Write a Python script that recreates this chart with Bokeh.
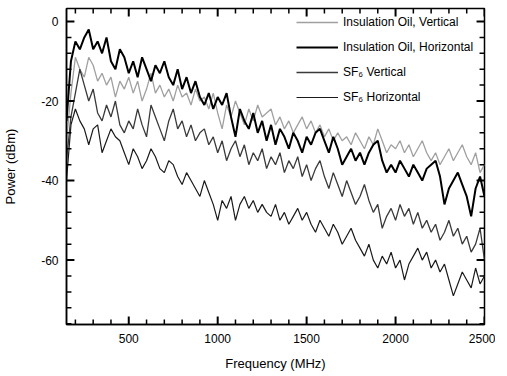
from bokeh.plotting import figure
from bokeh.models import Range1d, FixedTicker, Legend, LegendItem
from bokeh.embed import file_html
from bokeh.resources import INLINE

# Frequency grid (MHz)
freq = list(range(150, 2525, 25))

oil_vertical = [
    -30, -18, -9, -12, -14, -9, -11, -15, -13, -16,
    -14, -19, -15, -17, -14, -18, -15, -20, -17, -13,
    -18, -16, -19, -17, -20, -16, -19, -18, -21, -17,
    -20, -19, -22, -18, -23, -27, -21, -24, -20, -23,
    -26, -22, -25, -21, -24, -23, -22, -26, -24, -27,
    -25, -28, -26, -24, -27, -25, -28, -26, -29, -27,
    -30, -28, -30, -29, -31, -28, -30, -32, -29, -31,
    -27, -30, -33, -31, -32, -30, -33, -31, -34, -32,
    -30, -33, -35, -33, -36, -34, -32, -35, -33, -31,
    -34, -36, -33, -38, -36]

oil_horizontal = [
    -25, -10, -5, -7, -4, -2, -7, -5, -8, -4,
    -10, -12, -7, -9, -13, -10, -14, -9, -12, -15,
    -11, -13, -10, -14, -16, -12, -17, -14, -18, -15,
    -19, -21, -18, -22, -19, -21, -18, -24, -29, -22,
    -25, -27, -23, -28, -25, -30, -26, -31, -27, -29,
    -32, -28, -30, -33, -29, -31, -28, -27, -30, -33,
    -29, -32, -36, -34, -32, -35, -33, -36, -33, -31,
    -30, -35, -38, -36, -38, -35, -37, -39, -36, -38,
    -40, -37, -36, -35, -39, -46, -42, -40, -38, -41,
    -44, -49, -42, -39, -44]

sf6_vertical = [
    -35, -24, -18, -12, -16, -20, -17, -23, -25, -21,
    -24, -20, -26, -28, -25, -27, -22, -26, -29, -21,
    -24, -27, -30, -25, -22, -27, -25, -29, -26, -30,
    -28, -27, -31, -29, -33, -30, -35, -32, -30, -34,
    -31, -36, -33, -35, -32, -37, -34, -36, -33, -38,
    -35, -37, -34, -39, -36, -40, -37, -35, -39, -42,
    -38, -41, -44, -40, -43, -46, -44, -41, -45, -48,
    -46, -52, -49, -47, -50, -46, -49, -47, -51, -48,
    -52, -50, -53, -51, -55, -53, -50, -54, -52, -56,
    -54, -58, -56, -52, -60]

sf6_horizontal = [
    -40, -26, -22, -25, -27, -31, -27, -26, -33, -30,
    -27, -29, -30, -33, -36, -32, -34, -37, -35, -32,
    -34, -37, -38, -35, -36, -39, -41, -38, -40, -42,
    -44, -40, -43, -46, -50, -45, -47, -44, -50, -46,
    -44, -47, -45, -48, -46, -48, -49, -46, -50, -48,
    -51, -49, -47, -50, -48, -51, -53, -50, -52, -54,
    -51, -53, -56, -54, -52, -55, -57, -59, -56, -60,
    -62, -59, -61, -58, -62, -60, -65, -61, -59, -57,
    -60, -58, -62, -60, -63, -61, -65, -69, -66, -63,
    -65, -67, -62, -66, -64]

x_major = [500, 1000, 1500, 2000, 2500]
y_major = [0, -20, -40, -60]
y_labels = {0: "0", -20: "-20", -40: "-40", -60: "-60"}
x_minor = [v for v in range(200, 2600, 100) if v not in x_major]
y_minor = [v for v in range(-76, 4, 4) if v not in y_major]

X_LO, X_HI = 150, 2500
Y_LO, Y_HI = -76.2, 3.27
FRAME_W, FRAME_H = 422, 316          # frame size in px
DX = (X_HI - X_LO) / FRAME_W         # data units per px
DY = (Y_HI - Y_LO) / FRAME_H

FONT = "Liberation Sans"

p = figure(width=495, height=374, output_backend="svg", toolbar_location=None,
           x_range=Range1d(X_LO, X_HI), y_range=Range1d(Y_LO, Y_HI),
           min_border_left=62, min_border_right=11, min_border_top=8,
           min_border_bottom=50)
p.xgrid.visible = False
p.ygrid.visible = False
p.outline_line_color = "black"
p.outline_line_width = 1.5
p.background_fill_color = "white"

lines = []
lines.append(p.line(freq, oil_vertical, line_color="#a0a0a0", line_width=1.3))
lines.append(p.line(freq, sf6_horizontal, line_color="#1a1a1a", line_width=1.2))
lines.append(p.line(freq, sf6_vertical, line_color="#3a3a3a", line_width=1.3))
lines.append(p.line(freq, oil_horizontal, line_color="black", line_width=2.0))

# inward tick marks on all four sides
def xticks(vals, npx, w):
    n = len(vals)
    p.segment(x0=vals, y0=[Y_LO] * n, x1=vals, y1=[Y_LO + npx * DY] * n,
              line_color="black", line_width=w)
    p.segment(x0=vals, y0=[Y_HI] * n, x1=vals, y1=[Y_HI - npx * DY] * n,
              line_color="black", line_width=w)

def yticks(vals, npx, w):
    n = len(vals)
    p.segment(x0=[X_LO] * n, y0=vals, x1=[X_LO + npx * DX] * n, y1=vals,
              line_color="black", line_width=w)
    p.segment(x0=[X_HI] * n, y0=vals, x1=[X_HI - npx * DX] * n, y1=vals,
              line_color="black", line_width=w)

xticks(x_major, 8, 2.0)
xticks(x_minor, 5, 1.5)
yticks(y_major, 8, 2.0)
yticks(y_minor, 5, 1.5)

for ax, tk in ((p.xaxis[0], x_major), (p.yaxis[0], y_major)):
    ax.ticker = FixedTicker(ticks=tk)
    ax.major_tick_in = 0
    ax.major_tick_out = 0
    ax.minor_tick_in = 0
    ax.minor_tick_out = 0
    ax.axis_line_width = 1.5
    ax.axis_line_color = "black"
    ax.major_label_text_font = FONT
    ax.major_label_text_font_size = "12px"
    ax.major_label_text_color = "black"
    ax.axis_label_text_font = FONT
    ax.axis_label_text_font_size = "13px"
    ax.axis_label_text_font_style = "normal"
    ax.axis_label_text_color = "black"

xa = p.xaxis[0]
ya = p.yaxis[0]
ya.major_label_overrides = y_labels
xa.axis_label = "Frequency (MHz)"
ya.axis_label = "Power (dBm)"
xa.major_label_standoff = 9
xa.axis_label_standoff = 10
ya.major_label_standoff = 8
ya.axis_label_standoff = 20

legend = Legend(items=[
    LegendItem(label="Insulation Oil, Vertical", renderers=[lines[0]]),
    LegendItem(label="Insulation Oil, Horizontal", renderers=[lines[3]]),
    LegendItem(label="SF\u2086 Vertical", renderers=[lines[2]]),
    LegendItem(label="SF\u2086 Horizontal", renderers=[lines[1]]),
], location=(230, 217))
legend.background_fill_alpha = 0
legend.border_line_alpha = 0
legend.padding = 0
legend.margin = 0
legend.spacing = 5
legend.label_height = 20
legend.glyph_height = 20
legend.glyph_width = 42
legend.label_standoff = 5
legend.label_text_font = FONT
legend.label_text_font_size = "12px"
legend.label_text_color = "black"
p.add_layout(legend, "center")

open("out.html", "w").write(file_html(p, INLINE))
